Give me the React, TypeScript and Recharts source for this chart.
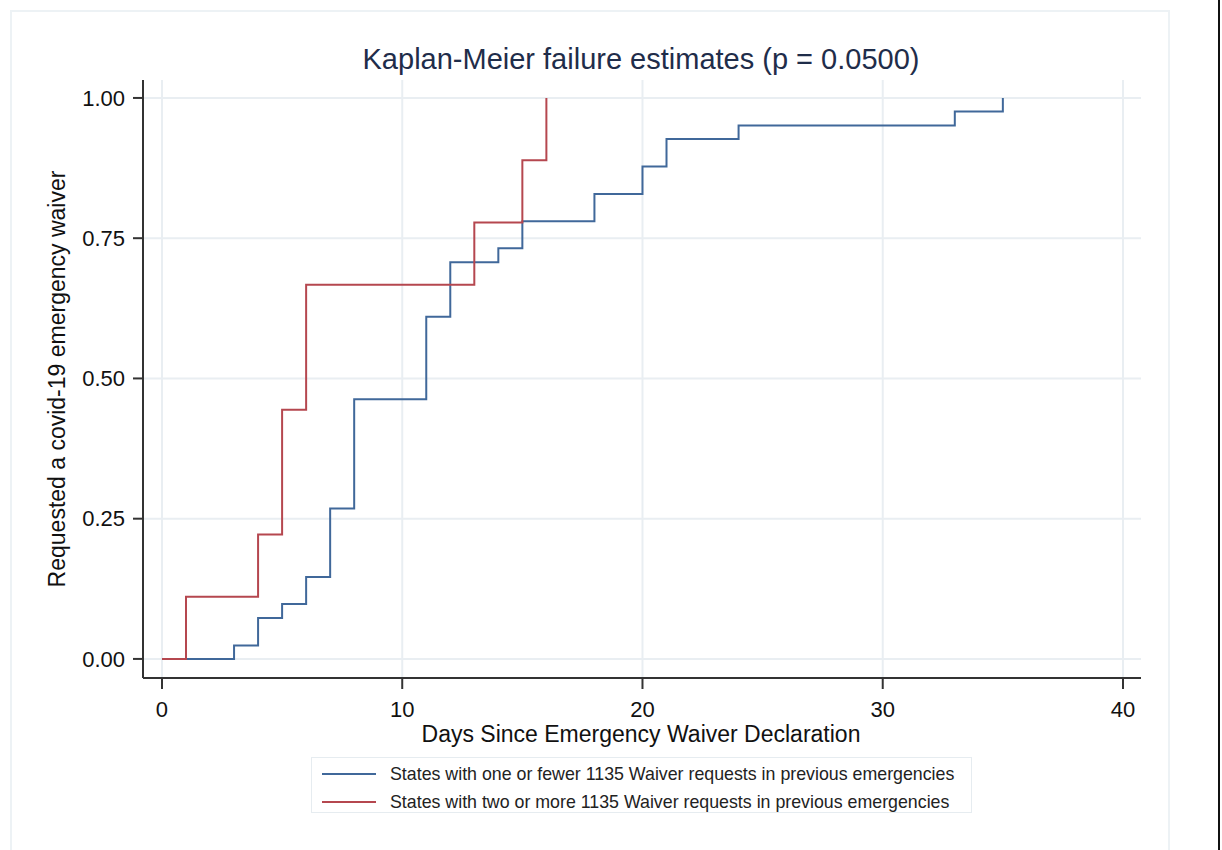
import { LineChart, Line, XAxis, YAxis, CartesianGrid, Legend } from "recharts";

// days since declaration and cumulative failure for each group
const fewerDays = [0, 3, 4, 5, 6, 7, 8, 11, 12, 14, 15, 18, 20, 21, 24, 33, 35];
const fewerFail = [0, 0.024, 0.073, 0.098, 0.146, 0.268, 0.463, 0.61, 0.707, 0.732, 0.78, 0.829, 0.878, 0.927, 0.951, 0.976, 1.0];
const moreDays = [0, 1, 4, 5, 6, 13, 15, 16];
const moreFail = [0, 0.111, 0.222, 0.444, 0.667, 0.778, 0.889, 1.0];

const xTicks = [0, 10, 20, 30, 40];
const yTicks = [0, 0.25, 0.5, 0.75, 1];

const seriesNames = [
  "States with one or fewer 1135 Waiver requests in previous emergencies",
  "States with two or more 1135 Waiver requests in previous emergencies",
];

const BLUE = "#40689a";
const RED = "#b5474f";
const FONT = "'Liberation Sans', Arial, sans-serif";

const fewer = fewerDays.map((day, i) => ({ day, fail: fewerFail[i] }));
const more = moreDays.map((day, i) => ({ day, fail: moreFail[i] }));

function XTick({ x, y, payload }: any) {
  return (
    <text x={x} y={y + 18} dy="0.35em" textAnchor="middle" fill="#111" fontSize={22} fontFamily={FONT}>
      {payload.value}
    </text>
  );
}

function YTick({ x, y, payload }: any) {
  return (
    <text x={x - 6} y={y} dy="0.35em" textAnchor="end" fill="#111" fontSize={22} fontFamily={FONT}>
      {Number(payload.value).toFixed(2)}
    </text>
  );
}

function LegendBox() {
  const colors = [BLUE, RED];
  return (
    <div
      style={{
        position: "absolute",
        left: 311,
        top: 757,
        width: 661,
        height: 56,
        border: "1px solid #e6ecf0",
        boxSizing: "border-box",
        fontFamily: FONT,
        fontSize: 17.8,
        color: "#222",
      }}
    >
      {seriesNames.map((name, i) => (
        <div key={name} style={{ position: "absolute", left: 10, top: 5 + i * 28, height: 22, display: "flex", alignItems: "center" }}>
          <div style={{ width: 54, height: 2, background: colors[i], marginRight: 14 }} />
          <span>{name}</span>
        </div>
      ))}
    </div>
  );
}

export default function App() {
  return (
    <div style={{ position: "absolute", left: 0, top: 0, width: 1222, height: 850, background: "#fff", overflow: "hidden", fontFamily: FONT }}>
      <div style={{ position: "absolute", left: 10, top: 10, width: 1160, height: 860, border: "2px solid #edf2f5", boxSizing: "border-box" }} />
      <div style={{ position: "absolute", left: 1218, top: 0, width: 2, height: 850, background: "#111" }} />

      <div style={{ position: "absolute", left: 0, top: 43, width: 1282, textAlign: "center", fontSize: 29, color: "#1f2d4a" }}>
        Kaplan-Meier failure estimates (p = 0.0500)
      </div>
      <div style={{ position: "absolute", left: 0, top: 723, width: 1282, textAlign: "center", fontSize: 23, lineHeight: "23px", color: "#111" }}>
        Days Since Emergency Waiver Declaration
      </div>
      <div
        style={{
          position: "absolute",
          left: 57,
          top: 379,
          transform: "translate(-50%, -50%) rotate(-90deg)",
          whiteSpace: "nowrap",
          fontSize: 23,
          color: "#111",
        }}
      >
        Requested a covid-19 emergency waiver
      </div>

      <div style={{ position: "absolute", left: 0, top: 0 }}>
        <LineChart width={1222} height={850} margin={{ top: 80, right: 81, bottom: 142, left: 83 }}>
          <CartesianGrid stroke="#e9eef2" strokeWidth={2} horizontalValues={yTicks} verticalValues={xTicks} />
          <XAxis
            type="number"
            dataKey="day"
            domain={[-0.79, 40.75]}
            ticks={xTicks}
            allowDataOverflow
            height={30}
            stroke="#333"
            strokeWidth={2}
            tickSize={11}
            tick={<XTick />}
            tickLine={{ stroke: "#333", strokeWidth: 2 }}
          />
          <YAxis
            type="number"
            domain={[-0.034, 1.032]}
            ticks={yTicks}
            allowDataOverflow
            width={60}
            stroke="#333"
            strokeWidth={2}
            tickSize={10}
            tick={<YTick />}
            tickLine={{ stroke: "#333", strokeWidth: 2 }}
          />
          <Line data={fewer} dataKey="fail" type="stepAfter" stroke={BLUE} strokeWidth={2} dot={false} isAnimationActive={false} name={seriesNames[0]} />
          <Line data={more} dataKey="fail" type="stepAfter" stroke={RED} strokeWidth={2} dot={false} isAnimationActive={false} name={seriesNames[1]} />
          <Legend content={() => null} />
        </LineChart>
      </div>
      <LegendBox />
    </div>
  );
}
